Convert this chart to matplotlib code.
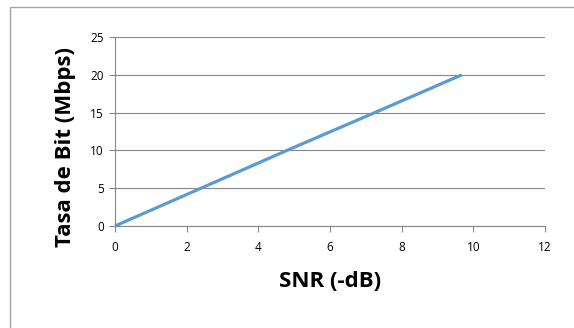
import matplotlib.pyplot as plt
from matplotlib.patches import Rectangle

# SNR (-dB) vs bit rate (Mbps)
snr_db = [0, 2.4, 4.8, 7.25, 9.68]
tasa_mbps = [0, 5, 10, 15, 20]

x_ticks = [0, 2, 4, 6, 8, 10, 12]
y_ticks = [0, 5, 10, 15, 20, 25]

plt.rcParams['font.family'] = ['Open Sans', 'DejaVu Sans']

fig = plt.figure(figsize=(5.74, 3.28), dpi=100)

# outer chart frame (Excel style)
fig.patches.append(Rectangle((10 / 574, -0.1), 1.2, 1 - 7 / 328 + 0.1,
                             transform=fig.transFigure, fill=False,
                             edgecolor='#a6a6a6', linewidth=1.0))

ax = fig.add_axes([115 / 574, 1 - 226 / 328, 430 / 574, 189 / 328])

ax.plot(snr_db, tasa_mbps, color='#5b9bd5', linewidth=2.3,
        solid_capstyle='butt', zorder=3, clip_on=False)

ax.set_xlim(0, 12)
ax.set_ylim(0, 25)
ax.set_xticks(x_ticks)
ax.set_yticks(y_ticks)

ax.grid(axis='y', color='#868686', linewidth=0.8)
ax.set_axisbelow(True)
for s in ['top', 'right']:
    ax.spines[s].set_visible(False)
for s in ['left', 'bottom']:
    ax.spines[s].set_color('#868686')
    ax.spines[s].set_linewidth(0.8)

ax.tick_params(axis='both', colors='#868686', labelcolor='black',
               labelsize=8.5, length=4, width=0.8, direction='out')
ax.tick_params(axis='x', pad=7)
ax.tick_params(axis='y', pad=4)

ax.set_xlabel('SNR (-dB)', fontsize=16, fontweight='bold', labelpad=12)
ax.set_ylabel('Tasa de Bit (Mbps)', fontsize=16, fontweight='bold', labelpad=10)
ax.yaxis.label.set_y(0.42)

fig.savefig('out.png', dpi=100)
